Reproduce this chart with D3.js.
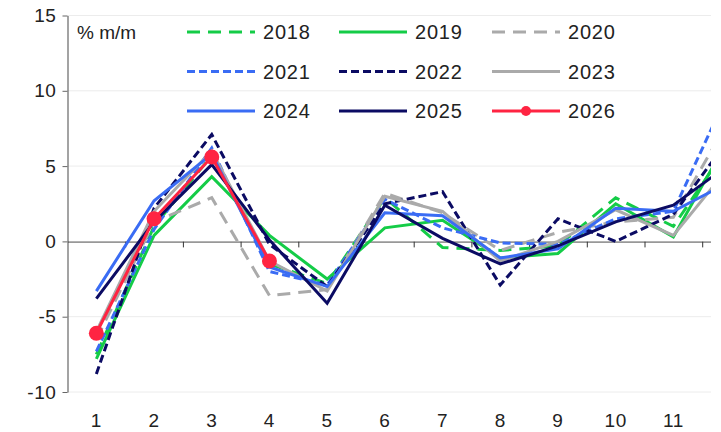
<!DOCTYPE html>
<html><head><meta charset="utf-8">
<script src="https://cdn.jsdelivr.net/npm/d3@7"></script>
<style>html,body{margin:0;padding:0;background:#fff;overflow:hidden}</style>
</head><body>
<svg id="c" width="721" height="432"></svg>
<script>
const months = [1,2,3,4,5,6,7,8,9,10,11,12];
const yTicks = [-10,-5,0,5,10,15];
const unitLabel = "% m/m";
const s2018 = [-7.5, 1.0, 5.7, -1.5, -2.8, 2.9, -0.4, -0.6, -0.3, 2.9, 1.0, 6.6];
const s2019 = [-7.8, 0.4, 4.3, 0.4, -2.5, 0.9, 1.4, -1.1, -0.8, 2.5, 0.3, 7.1];
const s2020 = [-6.5, 1.3, 2.9, -3.6, -3.2, 3.2, 1.9, -0.6, 0.6, 1.3, 1.6, 8.3];
const s2021 = [-7.3, 0.8, 6.2, -2.0, -2.9, 2.8, 0.9, -0.1, -0.2, 1.5, 2.0, 10.3];
const s2022 = [-8.8, 2.2, 7.1, -0.2, -3.0, 2.5, 3.3, -2.9, 1.5, 0.0, 1.8, 7.0];
const s2023 = [-6.0, 2.0, 6.0, -1.3, -3.3, 3.0, 2.0, -1.3, 0.0, 2.1, 0.4, 5.1];
const s2024 = [-3.3, 2.7, 5.8, -1.7, -3.0, 1.9, 1.7, -1.1, -0.5, 2.2, 2.0, 4.0];
const s2025 = [-3.8, 1.3, 5.1, 0.1, -4.1, 2.4, 0.2, -1.5, -0.3, 1.3, 2.4, 5.2];
const s2026 = [-6.1, 1.5, 5.6, -1.3];

const series = [
  {name:"2018", values:s2018, color:"#14cc47", dash:"13,8", marker:false},
  {name:"2019", values:s2019, color:"#14cc47", dash:null, marker:false},
  {name:"2020", values:s2020, color:"#aaaaaa", dash:"13,8", marker:false},
  {name:"2021", values:s2021, color:"#3a6cf4", dash:"8,4", marker:false},
  {name:"2022", values:s2022, color:"#0b0b63", dash:"8,4", marker:false},
  {name:"2023", values:s2023, color:"#aaaaaa", dash:null, marker:false},
  {name:"2024", values:s2024, color:"#3a6cf4", dash:null, marker:false},
  {name:"2025", values:s2025, color:"#0b0b63", dash:null, marker:false},
  {name:"2026", values:s2026, color:"#ff2442", dash:null, marker:true}
];

const svg = d3.select("#c");
const left = 67.5, step = 57.7, plotRight = 711;
const x = d3.scaleBand().domain(months).range([left, left + step*months.length]).paddingInner(0).paddingOuter(0);
const xb = d3.scaleLinear().domain([0, months.length]).range([left, left + step*months.length]);
const y = d3.scaleLinear().domain([-10, 15]).range([392, 15.5]);
const font = "'Liberation Sans', Arial, sans-serif";

svg.append("defs").append("clipPath").attr("id","clip")
  .append("rect").attr("x", left).attr("y", 0).attr("width", plotRight - left).attr("height", 432);

// gridlines
svg.append("g").selectAll("line").data(yTicks.filter(d => d !== 0)).join("line")
  .attr("x1", left).attr("x2", plotRight)
  .attr("y1", d => y(d)).attr("y2", d => y(d))
  .attr("stroke", "#ececec").attr("stroke-width", 1);

// y axis
const ya = svg.append("g").attr("transform", `translate(${left},0)`)
  .call(d3.axisLeft(y).tickValues(yTicks).tickFormat(d => String(d)).tickSize(5).tickSizeOuter(0).tickPadding(6));
ya.select(".domain").attr("stroke", "#666").attr("stroke-width", 1.2);
ya.selectAll(".tick line").attr("stroke", "#666");
ya.selectAll(".tick text").attr("font-family", font).attr("font-size", 19).attr("fill", "#222")
  .attr("letter-spacing", 0.6);

// zero axis with boundary ticks
const xa = svg.append("g").attr("transform", `translate(0,${y(0)})`).attr("clip-path","url(#clip)")
  .call(d3.axisBottom(xb).tickValues(d3.range(1, months.length)).tickSize(6).tickSizeOuter(0).tickFormat(""));
xa.select(".domain").attr("stroke", "#333").attr("stroke-width", 1.2);
xa.selectAll(".tick line").attr("stroke", "#333");

// month labels (only those within visible plot)
svg.append("g").selectAll("text").data(months.filter(d => x(d) + x.bandwidth()/2 < plotRight)).join("text")
  .attr("x", d => x(d) + x.bandwidth()/2).attr("y", 427)
  .attr("text-anchor", "middle").attr("font-family", font).attr("font-size", 19).attr("fill", "#222")
  .attr("letter-spacing", 0.6)
  .text(d => d);

// lines
const line = d3.line().x((d,i) => x(months[i]) + x.bandwidth()/2).y(d => y(d));
const g = svg.append("g").attr("clip-path", "url(#clip)");
series.forEach(s => {
  g.append("path").datum(s.values).attr("d", line)
    .attr("fill", "none").attr("stroke", s.color).attr("stroke-width", 3)
    .attr("stroke-dasharray", s.dash).attr("stroke-linejoin", "miter");
  if (s.marker) {
    g.selectAll(null).data(s.values).join("circle")
      .attr("cx", (d,i) => x(months[i]) + x.bandwidth()/2).attr("cy", d => y(d))
      .attr("r", 7.5).attr("fill", s.color);
  }
});

// unit label
svg.append("text").attr("x", 77).attr("y", 39).attr("font-family", font).attr("font-size", 19)
  .attr("fill", "#222").text(unitLabel);

// legend
const colX = [187, 339, 492], rowY = [32, 71.5, 111];
const lg = svg.append("g");
series.forEach((s, i) => {
  const cx = colX[i % 3], cy = rowY[Math.floor(i / 3)];
  lg.append("line").attr("x1", cx).attr("x2", cx + 68).attr("y1", cy).attr("y2", cy)
    .attr("stroke", s.color).attr("stroke-width", 3).attr("stroke-dasharray", s.dash);
  if (s.marker) lg.append("circle").attr("cx", cx + 34).attr("cy", cy).attr("r", 5).attr("fill", s.color);
  lg.append("text").attr("x", cx + 76).attr("y", cy + 7).attr("font-family", font).attr("font-size", 20)
    .attr("letter-spacing", 0.8).attr("fill", "#222").text(s.name);
});
</script>
</body></html>
